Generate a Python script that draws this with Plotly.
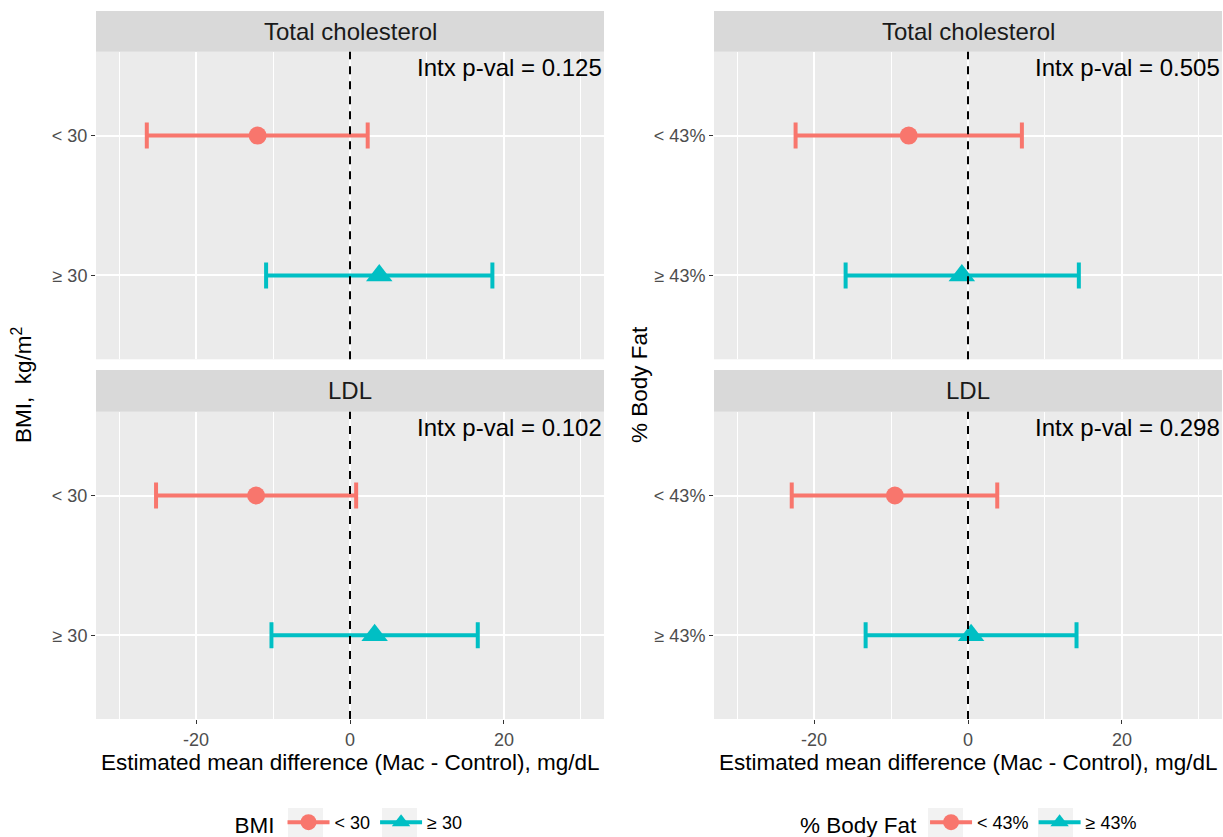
import plotly.graph_objects as go

# ---------------- data ----------------
facets = ["Total cholesterol", "LDL"]
bmi_groups = ["< 30", "≥ 30"]
fat_groups = ["< 43%", "≥ 43%"]

bmi_tc_est = [-12.0, 3.8]
bmi_tc_lo = [-26.4, -10.9]
bmi_tc_hi = [2.3, 18.5]
bmi_ldl_est = [-12.2, 3.2]
bmi_ldl_lo = [-25.2, -10.2]
bmi_ldl_hi = [0.8, 16.6]
bmi_pvals = ["0.125", "0.102"]

fat_tc_est = [-7.7, -0.8]
fat_tc_lo = [-22.4, -15.9]
fat_tc_hi = [7.0, 14.4]
fat_ldl_est = [-9.5, 0.4]
fat_ldl_lo = [-22.9, -13.3]
fat_ldl_hi = [3.8, 14.1]
fat_pvals = ["0.505", "0.298"]

x_ticks = [-20, 0, 20]
x_minor = [-30, -10, 10, 30]
x_range = [-33, 33]

# ---------------- layout helpers ----------------
W, H = 1223, 837
def px(x):
    return x / W
def py(y):
    return 1 - y / H

FONT = "Liberation Sans, Arial"
colors = ["#F8766D", "#00BFC4"]
symbols = ["circle", "triangle-up"]
msizes = [18, 23]

panel_x = [(96, 604), (714, 1222)]
panel_y = [(51.7, 359.3), (411.7, 719)]
strip_y = [(11, 51.7), (370, 411.7)]
key_boxes = [[(288, 323), (382, 417)], [(928, 963), (1038, 1073)]]
key_y = (808, 837)
legend_cx = [350, 970]

fig = go.Figure()

plots = [
    dict(groups=bmi_groups, est=[bmi_tc_est, bmi_ldl_est], lo=[bmi_tc_lo, bmi_ldl_lo],
         hi=[bmi_tc_hi, bmi_ldl_hi], p=bmi_pvals, ytitle="BMI,  kg/m<sup>2</sup>",
         legend="legend", ltitle="BMI"),
    dict(groups=fat_groups, est=[fat_tc_est, fat_ldl_est], lo=[fat_tc_lo, fat_ldl_lo],
         hi=[fat_tc_hi, fat_ldl_hi], p=fat_pvals, ytitle="% Body Fat",
         legend="legend2", ltitle="% Body Fat"),
]

layout = {}
shapes = []
annotations = []
axis_idx = 0
for c, pl in enumerate(plots):
    x0, x1 = panel_x[c]
    for r, facet in enumerate(facets):
        axis_idx += 1
        xa = "x" if axis_idx == 1 else f"x{axis_idx}"
        ya = "y" if axis_idx == 1 else f"y{axis_idx}"
        xkey = "xaxis" if axis_idx == 1 else f"xaxis{axis_idx}"
        ykey = "yaxis" if axis_idx == 1 else f"yaxis{axis_idx}"
        yt, yb = panel_y[r]
        bottom = (r == len(facets) - 1)
        layout[xkey] = dict(
            domain=[px(x0), px(x1)], anchor=ya, range=x_range,
            tickvals=x_ticks, ticktext=[str(v) for v in x_ticks],
            showticklabels=bottom, ticks="outside" if bottom else "",
            ticklen=4, tickwidth=1.1, tickcolor="#333333",
            tickfont=dict(size=18, color="#4D4D4D", family=FONT),
            showgrid=True, gridcolor="white", gridwidth=1.6,
            minor=dict(tickvals=x_minor, showgrid=True, gridcolor="white", gridwidth=0.8, ticks=""),
            zeroline=False, showline=False, fixedrange=True, automargin=False,
        )
        layout[ykey] = dict(
            domain=[py(yb), py(yt)], anchor=xa, type="category",
            categoryarray=pl["groups"], categoryorder="array",
            range=[1.6, -0.6],
            ticks="outside", ticklen=4, tickwidth=1.1, tickcolor="#333333",
            tickfont=dict(size=18, color="#4D4D4D", family=FONT),
            showgrid=True, gridcolor="white", gridwidth=1.6,
            zeroline=False, showline=False, fixedrange=True, automargin=False,
        )
        for g, grp in enumerate(pl["groups"]):
            e = pl["est"][r][g]
            lo = pl["lo"][r][g]
            hi = pl["hi"][r][g]
            fig.add_trace(go.Scatter(
                x=[e], y=[grp], xaxis=xa, yaxis=ya,
                mode="lines+markers", name=grp,
                marker=dict(symbol=symbols[g], size=msizes[g], color=colors[g]),
                line=dict(color=colors[g], width=4),
                error_x=dict(type="data", symmetric=False, array=[hi - e], arrayminus=[e - lo],
                             color=colors[g], thickness=4, width=13),
                showlegend=(r == 0), legend=pl["legend"], hoverinfo="skip",
            ))
        shapes.append(dict(type="line", xref=xa, yref=f"{ya} domain", x0=0, x1=0, y0=0, y1=1,
                           line=dict(color="black", width=2, dash="8px,7px"), layer="above"))
        st, sb = strip_y[r]
        shapes.append(dict(type="rect", xref="paper", yref="paper", x0=px(x0), x1=px(x1),
                           y0=py(sb), y1=py(st), fillcolor="#D9D9D9", line=dict(width=0), layer="below"))
        annotations.append(dict(text=facet, xref="paper", yref="paper", x=px((x0 + x1) / 2),
                                y=py((st + sb) / 2), showarrow=False, xanchor="center", yanchor="middle",
                                font=dict(size=24, color="#1A1A1A", family=FONT)))
        annotations.append(dict(text=f"Intx p-val = {pl['p'][r]}", xref=f"{xa} domain", yref=f"{ya} domain",
                                x=1, y=0.95, xanchor="right", yanchor="middle", showarrow=False,
                                font=dict(size=24, color="black", family=FONT)))
    annotations.append(dict(text="Estimated mean difference (Mac - Control), mg/dL", xref="paper", yref="paper",
                            x=px((x0 + x1) / 2), y=py(762), xanchor="center", yanchor="middle", showarrow=False,
                            font=dict(size=22.5, color="black", family=FONT)))
    annotations.append(dict(text=pl["ytitle"], xref="paper", yref="paper", textangle=-90,
                            x=px(x0 - 74), y=py(385), xanchor="center", yanchor="middle", showarrow=False,
                            font=dict(size=22.5, color="black", family=FONT)))
    for (k0, k1) in key_boxes[c]:
        shapes.append(dict(type="rect", xref="paper", yref="paper", x0=px(k0), x1=px(k1),
                           y0=py(key_y[1]), y1=py(key_y[0]), fillcolor="#F2F2F2",
                           line=dict(width=0), layer="below"))
    layout[pl["legend"]] = dict(
        orientation="h", x=px(legend_cx[c]), xanchor="center", y=py(824), yanchor="middle",
        title=dict(text=pl["ltitle"], side="left", font=dict(size=22.5, color="black", family=FONT)),
        font=dict(size=18, color="black", family=FONT), itemwidth=42,
        bgcolor="rgba(0,0,0,0)", itemclick=False, itemdoubleclick=False,
    )

fig.update_layout(
    width=W, height=H, margin=dict(l=0, r=0, t=0, b=0, autoexpand=False),
    paper_bgcolor="white", plot_bgcolor="#EBEBEB",
    shapes=shapes, annotations=annotations, **layout,
)

fig.write_html(
    "out.html",
    config={"displayModeBar": False},
    post_script="document.body.style.margin='0';document.body.style.overflow='hidden';",
)
